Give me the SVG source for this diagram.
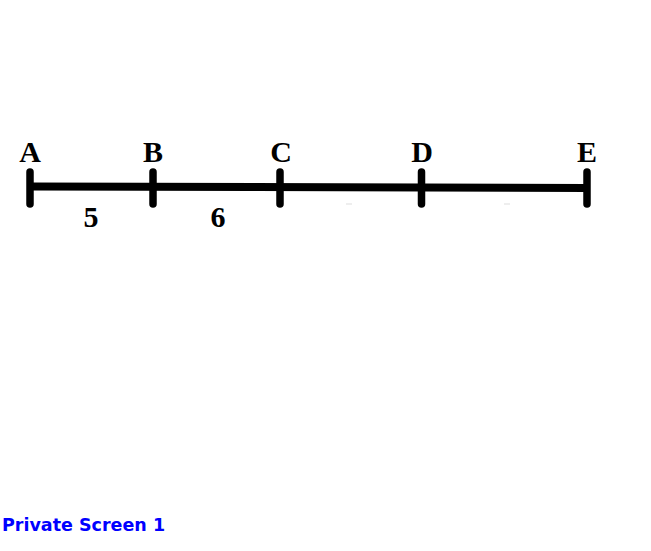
<svg xmlns="http://www.w3.org/2000/svg" width="651" height="551" viewBox="0 0 651 551">
<style>
.lbl{font-family:"Liberation Serif","Times New Roman",serif;font-weight:bold;font-size:30px;fill:#000;text-anchor:middle}
.tick{stroke:#000;stroke-width:7.5;stroke-linecap:round}
.seg{stroke:#000;stroke-width:8;stroke-linecap:butt}
.foot{font-family:"DejaVu Sans","Verdana",sans-serif;font-weight:bold;font-size:17.5px;fill:#0000ff}
</style>
<rect width="651" height="551" fill="#fff"/>
<g id="connectors">
<line class="seg" x1="30" y1="186.5" x2="587" y2="188"/>
<line x1="346" y1="204" x2="352" y2="204" stroke="#ddd" stroke-width="1"/>
<line x1="504" y1="204" x2="510" y2="204" stroke="#ddd" stroke-width="1"/>
</g>
<g id="node-A"><line class="tick" x1="30" y1="172" x2="30" y2="204"/><text class="lbl" x="30" y="162">A</text></g>
<g id="node-B"><line class="tick" x1="153" y1="172" x2="153" y2="204"/><text class="lbl" x="153" y="162">B</text></g>
<g id="node-C"><line class="tick" x1="280" y1="172" x2="280" y2="204"/><text class="lbl" x="281" y="162">C</text></g>
<g id="node-D"><line class="tick" x1="421.5" y1="172" x2="421.5" y2="204"/><text class="lbl" x="422" y="162">D</text></g>
<g id="node-E"><line class="tick" x1="587" y1="172" x2="587" y2="204"/><text class="lbl" x="587" y="162">E</text></g>
<text class="lbl" x="91" y="227">5</text>
<text class="lbl" x="218" y="227">6</text>
<text class="foot" x="2" y="531">Private Screen 1</text>
</svg>
